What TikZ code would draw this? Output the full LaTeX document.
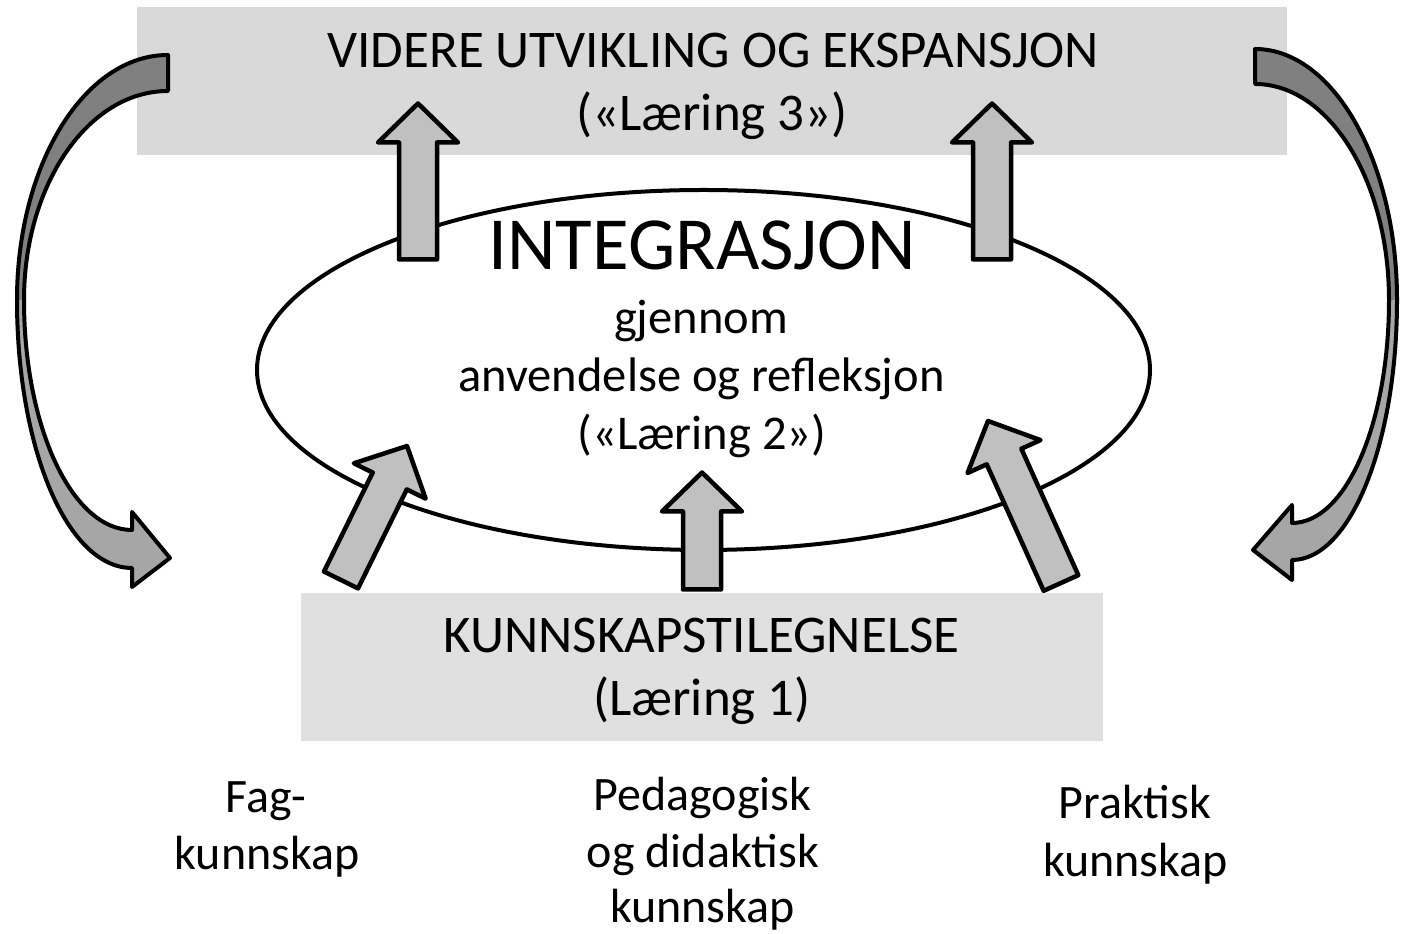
\documentclass[tikz,border=0pt]{standalone}
\usepackage{fontspec}
\setmainfont{Carlito}
\usetikzlibrary{calc,shapes.geometric}
\definecolor{boxtop}{HTML}{D9D9D9}
\definecolor{boxbot}{HTML}{E0E0E0}
\definecolor{arrfill}{HTML}{C0C0C0}
\definecolor{banddark}{HTML}{808080}
\definecolor{bandlight}{HTML}{A6A6A6}
\tikzset{
 bx/.style={fill=#1, draw=none, inner sep=0pt},
 barrow/.style={draw=black, fill=arrfill, line width=4.5pt, line join=round},
 bandfill/.style={fill=#1, draw=none},
 bandline/.style={draw=black, line width=4pt, line join=round},
 boxtxt/.style={anchor=base, inner sep=0pt, font=\fontsize{53}{60}\selectfont},
 txt/.style={anchor=base, inner sep=0pt, font=\fontsize{48.5}{58}\selectfont},
 lbltxt/.style={anchor=base, inner sep=0pt, font=\fontsize{48}{58}\selectfont},
 bigtxt/.style={anchor=base, inner sep=0pt, font=\fontsize{75}{88}\selectfont},
}
\newcommand\blockarr[2]{%
 \coordinate (bah) at ($(#2)!39pt!(#1)$);
 \draw[barrow] ($(#1)!19pt!-90:(#2)$) -- ($(bah)!19pt!90:(#1)$) -- ($(bah)!40pt!90:(#1)$) -- (#2) -- ($(bah)!40pt!-90:(#1)$) -- ($(bah)!19pt!-90:(#1)$) -- ($(#1)!19pt!90:(#2)$) -- cycle;}
\begin{document}
\begin{tikzpicture}[x=1pt,y=1pt]
\useasboundingbox (0,0) rectangle (1401,934);
% boxes
\node[bx=boxtop, minimum width=1150pt, minimum height=148pt] (topbox) at (712,853) {};
\node[bx=boxbot, minimum width=802pt, minimum height=148pt] (botbox) at (702,267) {};
% ellipse
\node[draw, ellipse, line width=4pt, fill=white, minimum width=893pt, minimum height=360pt, inner sep=0pt] (integ) at (703.5,564) {};
% block arrows
\coordinate (u1a) at (418,674.5); \coordinate (u1b) at (418,830.5);
\coordinate (u2a) at (992,674.5); \coordinate (u2b) at (992,830.5);
\coordinate (ma) at (702,344.5); \coordinate (mb) at (702,461.5);
\coordinate (dla) at (341,354); \coordinate (dlb) at (407,488);
\coordinate (dra) at (1061,351); \coordinate (drb) at (988,513);
\blockarr{u1a}{u1b}
\blockarr{u2a}{u2b}
\blockarr{ma}{mb}
\blockarr{dla}{dlb}
\blockarr{dra}{drb}
% curved arrow, left
\path[bandfill=bandlight] (17,634) .. controls (17,486) and (67,366) .. (132,366) -- (132,347) -- (170,376) -- (132,422) -- (132,404) .. controls (72,404) and (24,507) .. (24,634) -- cycle;
\path[bandfill=banddark] (17,634) .. controls (17,769) and (84,879) .. (168,879) -- (168,843) .. controls (88,843) and (24,749) .. (24,634) -- cycle;
\draw[bandline] (168,843) -- (168,879) .. controls (84,879) and (17,769) .. (17,634) .. controls (17,486) and (67,366) .. (132,366) -- (132,347) -- (170,376) -- (132,422) -- (132,404) .. controls (72,404) and (24,507) .. (24,634) .. controls (24,749) and (88,843) .. (168,843) -- cycle;
% curved arrow, right
\path[bandfill=bandlight] (1397,634) .. controls (1397,490) and (1350,374) .. (1292,374) -- (1292,354) -- (1253,384) -- (1292,429) -- (1292,411) .. controls (1346,411) and (1389,511) .. (1389,634) -- cycle;
\path[bandfill=banddark] (1397,634) .. controls (1397,773) and (1333,885) .. (1255,885) -- (1255,850) .. controls (1329,850) and (1389,753) .. (1389,634) -- cycle;
\draw[bandline] (1255,850) -- (1255,885) .. controls (1333,885) and (1397,773) .. (1397,634) .. controls (1397,490) and (1350,374) .. (1292,374) -- (1292,354) -- (1253,384) -- (1292,429) -- (1292,411) .. controls (1346,411) and (1389,511) .. (1389,634) .. controls (1389,753) and (1329,850) .. (1255,850) -- cycle;
% texts
\node[boxtxt] (t1) at (713,866) {VIDERE UTVIKLING OG EKSPANSJON};
\node[boxtxt] (t2) at (712,803) {(«Læring 3»)};
\node[bigtxt] (t3) at (702,664) {INTEGRASJON};
\node[txt] (t4) at (701,600) {gjennom};
\node[txt] (t5) at (701.5,542) {anvendelse og refleksjon};
\node[txt] (t6) at (702,484) {(«Læring 2»)};
\node[boxtxt] (t7) at (701.5,281) {KUNNSKAPSTILEGNELSE};
\node[boxtxt] (t8) at (702,218) {(Læring 1)};
\node[lbltxt] (l1a) at (266,121) {Fag-};
\node[lbltxt] (l1b) at (267,64) {kunnskap};
\node[lbltxt] (l2a) at (702.5,123) {Pedagogisk};
\node[lbltxt] (l2b) at (703,66) {og didaktisk};
\node[lbltxt] (l2c) at (702.5,11) {kunnskap};
\node[lbltxt] (l3a) at (1135,115) {Praktisk};
\node[lbltxt] (l3b) at (1135.5,57) {kunnskap};
\end{tikzpicture}
\end{document}
